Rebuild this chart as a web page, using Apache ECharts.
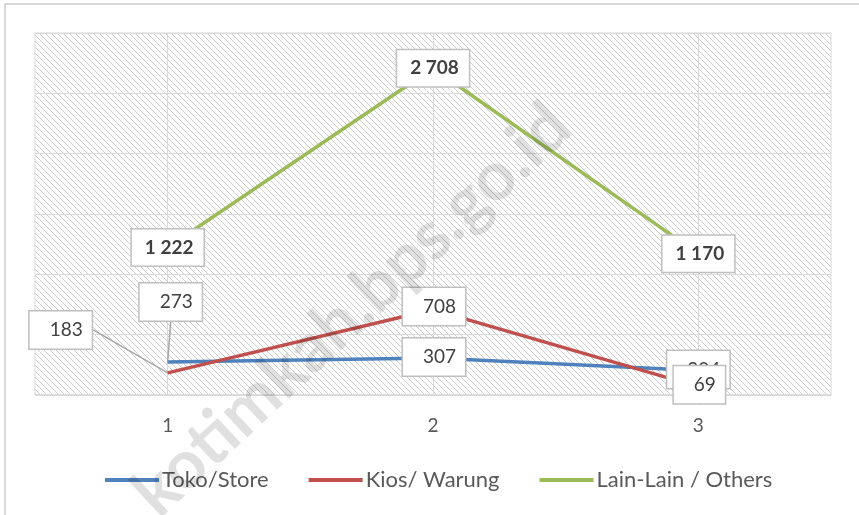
<!DOCTYPE html>
<html>
<head>
<meta charset="utf-8">
<script src="https://cdn.jsdelivr.net/npm/echarts@6/dist/echarts.min.js"></script>
<style>
  html, body { margin: 0; padding: 0; background: #fff; }
  #myChart { width: 859px; height: 515px; }
</style>
</head>
<body>
<div id="myChart"></div>
<script>
  const categories = ['1', '2', '3']
  const tokoStore = [273, 307, 204]
  const kiosWarung = [183, 708, 69]
  const lainLain = [1222, 2708, 1170]
  const seriesNames = ['Toko/Store', 'Kios/ Warung', 'Lain-Lain / Others']

  // label offsets (px) from the point, like the callouts in the picture
  const tokoOffsets = [[3, -60], [1, -1], [0, -1]]
  const kiosOffsets = [[-107, -43], [1, -3], [1, -2]]

  function hatch() {
    const c = document.createElement('canvas')
    c.width = 6
    c.height = 6
    const ctx = c.getContext('2d')
    ctx.strokeStyle = '#cfcfcf'
    ctx.lineWidth = 1
    ctx.beginPath()
    ctx.moveTo(-1, -1); ctx.lineTo(7, 7)
    ctx.moveTo(-1, 5); ctx.lineTo(1, 7)
    ctx.moveTo(5, -1); ctx.lineTo(7, 1)
    ctx.stroke()
    return c
  }

  function spaced(v) {
    return String(v).replace(/\B(?=(\d{3})+(?!\d))/g, ' ')
  }

  const boxLabel = {
    show: true,
    position: 'inside',
    color: '#404040',
    fontFamily: 'Lato',
    fontSize: 19,
    backgroundColor: '#fff',
    borderColor: '#bfbfbf',
    borderWidth: 1.5,
    padding: [8, 9, 7, 20],
    lineHeight: 22
  }
  const guide = { show: true, length2: 0, minTurnAngle: 0, lineStyle: { color: '#a6a6a6', width: 1.5 } }

  const myChart = echarts.init(document.getElementById('myChart'))
  myChart.setOption({
    animation: false,
    textStyle: { fontFamily: 'Lato' },
    grid: {
      left: 35,
      right: 28,
      top: 33,
      bottom: 120,
      show: true,
      borderColor: '#d9d9d9',
      borderWidth: 1,
      backgroundColor: { image: hatch(), repeat: 'repeat' }
    },
    legend: {
      left: 100,
      top: 464,
      icon: 'rect',
      itemWidth: 54,
      itemHeight: 4,
      itemGap: 40,
      textStyle: { color: '#595959', fontSize: 22, fontFamily: 'Lato', padding: [0, 0, 0, -2] },
      data: seriesNames
    },
    xAxis: {
      type: 'category',
      data: categories,
      axisLine: { lineStyle: { color: '#d9d9d9', width: 1.5 } },
      axisTick: { show: false },
      axisLabel: { color: '#595959', fontSize: 19, margin: 21 },
      splitLine: { show: true, alignWithLabel: true, lineStyle: { color: '#d9d9d9' } }
    },
    yAxis: {
      type: 'value',
      min: 0,
      max: 3000,
      interval: 500,
      axisLabel: { show: false },
      axisLine: { show: false },
      axisTick: { show: false },
      splitLine: { lineStyle: { color: '#d9d9d9' } }
    },
    graphic: [
      {
        type: 'rect',
        shape: { x: 5, y: 4, width: 900, height: 600 },
        style: { fill: 'none', stroke: '#d9d9d9', lineWidth: 2 },
        z: 0
      },
      {
        type: 'text',
        x: 352,
        y: 310,
        rotation: 0.75,
        z: 100,
        style: {
          text: 'kotimkah.bps.go.id',
          fill: 'rgba(0,0,0,0.12)',
          font: 'bold 68px Lato',
          align: 'center',
          verticalAlign: 'middle'
        }
      }
    ],
    series: [
      {
        name: seriesNames[0],
        type: 'line',
        data: tokoStore,
        symbol: 'circle',
        symbolSize: 1,
        color: '#4f81bd',
        lineStyle: { width: 3.5 },
        label: boxLabel,
        labelLine: guide,
        labelLayout: (p) => ({ dx: tokoOffsets[p.dataIndex][0], dy: tokoOffsets[p.dataIndex][1] })
      },
      {
        name: seriesNames[1],
        type: 'line',
        data: kiosWarung,
        symbol: 'circle',
        symbolSize: 1,
        color: '#c0504d',
        lineStyle: { width: 3.5 },
        label: boxLabel,
        labelLine: guide,
        labelLayout: (p) => ({ dx: kiosOffsets[p.dataIndex][0], dy: kiosOffsets[p.dataIndex][1] })
      },
      {
        name: seriesNames[2],
        type: 'line',
        data: lainLain,
        symbol: 'circle',
        symbolSize: 1,
        color: '#9bbb59',
        lineStyle: { width: 3.5 },
        label: Object.assign({}, boxLabel, {
          fontWeight: 'bold',
          padding: [7, 10, 7, 13],
          formatter: (p) => spaced(p.value)
        })
      }
    ]
  })
</script>
</body>
</html>
